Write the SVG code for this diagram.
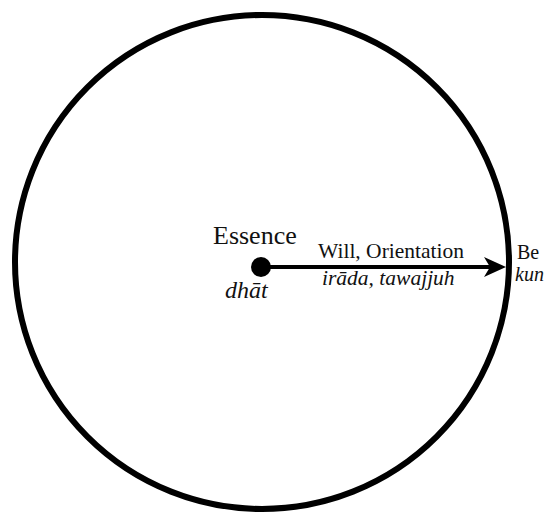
<svg xmlns="http://www.w3.org/2000/svg" width="548" height="518" viewBox="0 0 548 518">
<style>
.t{font-family:"Liberation Serif","Times New Roman",serif;fill:#111}
.i{font-style:italic}
</style>
<rect width="548" height="518" fill="#fff"/>
<g id="circle"><circle cx="262" cy="262" r="247" fill="none" stroke="#000" stroke-width="6"/></g>
<g id="essence">
<circle cx="261" cy="267" r="10" fill="#000"/>
<text class="t" x="213" y="244" font-size="26">Essence</text>
<text class="t i" x="225" y="298" font-size="24">dhāt</text>
</g>
<g id="be">
<text class="t" x="517" y="259" font-size="20">Be</text>
<text class="t i" x="515" y="281" font-size="20">kun</text>
</g>
<g id="connectors">
<line x1="261" y1="267" x2="492" y2="267" stroke="#000" stroke-width="4"/>
<path d="M506,267 L484,257 L490,267 L484,277 Z" fill="#000"/>
<text class="t" x="318" y="258" font-size="21.5">Will, Orientation</text>
<text class="t i" x="322" y="285" font-size="21.5">irāda, tawajjuh</text>
</g>
</svg>
